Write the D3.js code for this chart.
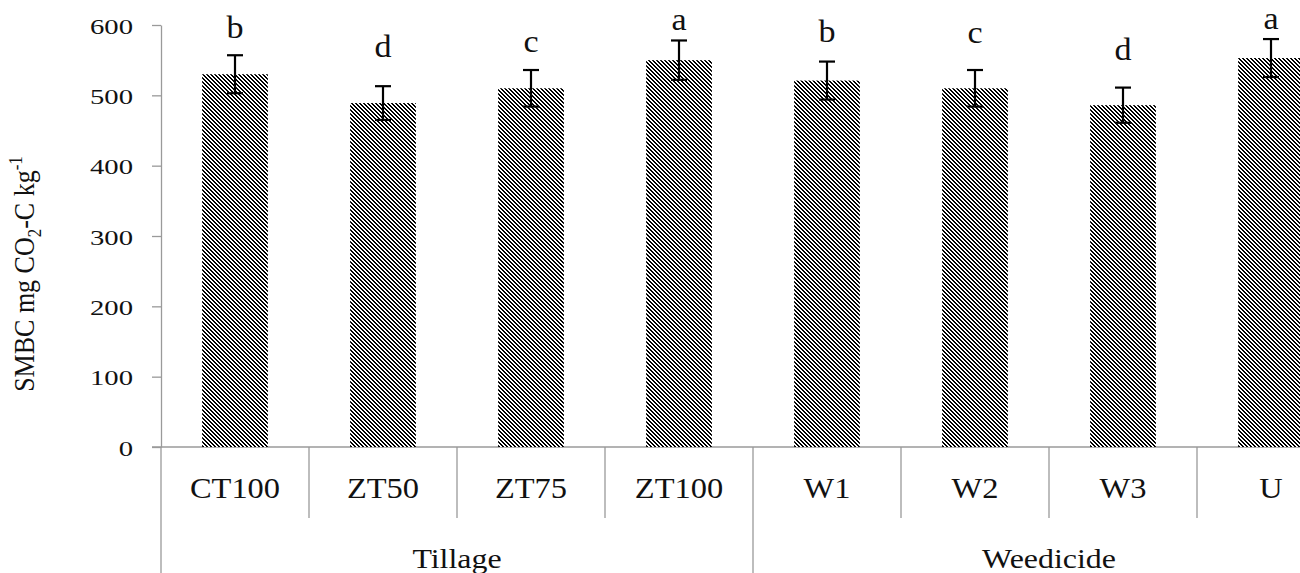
<!DOCTYPE html>
<html>
<head>
<meta charset="utf-8">
<script src="https://cdn.jsdelivr.net/npm/d3@7"></script>
<style>
  body { margin: 0; background: #fff; }
  svg { display: block; }
  text { font-family: "Liberation Serif", "Times New Roman", serif; fill: #111; }
</style>
</head>
<body>
<div id="container"></div>
<script>
// data
const categories = ['CT100', 'ZT50', 'ZT75', 'ZT100', 'W1', 'W2', 'W3', 'U'];
const groups = ['Tillage', 'Tillage', 'Tillage', 'Tillage', 'Weedicide', 'Weedicide', 'Weedicide', 'Weedicide'];
const smbc = [530, 489, 510, 550, 521, 510, 486, 553];
const errors = [27, 24, 26, 28, 27, 26, 25, 27];
const letters = ['b', 'd', 'c', 'a', 'b', 'c', 'd', 'a'];
// height (in chart units) where each letter sits
const letterLevel = [581, 554, 562, 593, 576, 574, 550, 594];
const yTicks = [0, 100, 200, 300, 400, 500, 600];

const width = 1300, height = 573;
const plotLeft = 161, plotTop = 25, plotBottom = 447;
const slotEnd = 1345;
const axisGrey = '#9a9a9a';

const svg = d3.select('#container').append('svg')
  .attr('width', width)
  .attr('height', height);

// downward diagonal hatch
const pat = svg.append('defs').append('pattern')
  .attr('id', 'hatch')
  .attr('patternUnits', 'userSpaceOnUse')
  .attr('width', 4)
  .attr('height', 4);
pat.append('rect').attr('width', 4).attr('height', 4).attr('fill', '#fff');
for (let r = 0; r < 4; r++) {
  [r, (r + 1) % 4].forEach(c => {
    pat.append('rect')
      .attr('x', c).attr('y', r)
      .attr('width', 1).attr('height', 1)
      .attr('fill', '#000')
      .attr('shape-rendering', 'crispEdges');
  });
}

const y = d3.scaleLinear().domain([0, 600]).range([plotBottom, plotTop]);

// one slot per category, bars sit in the middle of it
const slot = d3.scaleBand().domain(categories).range([plotLeft, slotEnd]).padding(0);
const x = d3.scaleBand().domain(categories).range([plotLeft, slotEnd])
  .paddingInner(0.556).paddingOuter(0.278);

// y axis
const yAxis = svg.append('g')
  .attr('transform', `translate(${plotLeft},0)`)
  .call(d3.axisLeft(y).tickValues(yTicks).tickSize(9).tickSizeOuter(0));
yAxis.select('.domain').attr('stroke', axisGrey).attr('stroke-width', 1.3);
yAxis.selectAll('.tick line').attr('stroke', axisGrey).attr('stroke-width', 1.3);
yAxis.selectAll('.tick text')
  .attr('x', null).attr('dy', null)
  .attr('transform', 'translate(-28,8) scale(1.4,1)')
  .style('font-size', '20.5px')
  .style('font-family', '"Liberation Serif", serif')
  .attr('fill', '#111');

// x axis line
svg.append('line')
  .attr('x1', plotLeft - 9).attr('x2', width)
  .attr('y1', plotBottom).attr('y2', plotBottom)
  .attr('stroke', axisGrey).attr('stroke-width', 1.3);

// separators between categories
svg.selectAll('.sep')
  .data(categories.slice(1))
  .enter()
  .append('line')
  .attr('class', 'sep')
  .attr('x1', d => slot(d)).attr('x2', d => slot(d))
  .attr('y1', plotBottom)
  .attr('y2', (d, i) => groups[i + 1] !== groups[i] ? height : 518)
  .attr('stroke', axisGrey).attr('stroke-width', 1.3);

// left edge goes down through the label rows
svg.append('line')
  .attr('x1', plotLeft).attr('x2', plotLeft)
  .attr('y1', plotBottom).attr('y2', height)
  .attr('stroke', axisGrey).attr('stroke-width', 1.3);

// bars
svg.selectAll('.bar')
  .data(categories)
  .enter()
  .append('rect')
  .attr('class', 'bar')
  .attr('x', d => x(d))
  .attr('width', x.bandwidth())
  .attr('y', (d, i) => y(smbc[i]))
  .attr('height', (d, i) => y(0) - y(smbc[i]))
  .attr('fill', 'url(#hatch)');

// error bars
const cx = d => x(d) + x.bandwidth() / 2;
const err = svg.selectAll('.err')
  .data(categories)
  .enter()
  .append('g')
  .attr('class', 'err')
  .attr('stroke', '#000')
  .attr('stroke-width', 2.2);
err.append('line')
  .attr('x1', cx).attr('x2', cx)
  .attr('y1', (d, i) => y(smbc[i] + errors[i]))
  .attr('y2', (d, i) => y(smbc[i] - errors[i]));
err.append('line')
  .attr('x1', d => cx(d) - 8).attr('x2', d => cx(d) + 8)
  .attr('y1', (d, i) => y(smbc[i] + errors[i]))
  .attr('y2', (d, i) => y(smbc[i] + errors[i]));
err.append('line')
  .attr('x1', d => cx(d) - 8).attr('x2', d => cx(d) + 8)
  .attr('y1', (d, i) => y(smbc[i] - errors[i]))
  .attr('y2', (d, i) => y(smbc[i] - errors[i]));

// significance letters
svg.selectAll('.letter')
  .data(categories)
  .enter()
  .append('text')
  .attr('class', 'letter')
  .attr('transform', (d, i) => `translate(${cx(d)},${y(letterLevel[i])}) scale(1.1,1)`)
  .attr('text-anchor', 'middle')
  .style('font-size', '31px')
  .text((d, i) => letters[i]);

// category labels
svg.selectAll('.cat')
  .data(categories)
  .enter()
  .append('text')
  .attr('class', 'cat')
  .attr('transform', d => `translate(${slot(d) + slot.bandwidth() / 2},498) scale(1.12,1)`)
  .attr('text-anchor', 'middle')
  .style('font-size', '29px')
  .text(d => d);

// group labels
const groupNames = Array.from(new Set(groups));
svg.selectAll('.grp')
  .data(groupNames)
  .enter()
  .append('text')
  .attr('class', 'grp')
  .attr('transform', g => {
    const members = categories.filter((c, i) => groups[i] === g);
    const x0 = slot(members[0]);
    const x1 = slot(members[members.length - 1]) + slot.bandwidth();
    return `translate(${(x0 + x1) / 2},568) scale(1.14,1)`;
  })
  .attr('text-anchor', 'middle')
  .style('font-size', '28px')
  .text(g => g);

// y axis title
const title = svg.append('text')
  .attr('transform', `translate(34,${(155 + 393) / 2}) scale(1.16,1) rotate(-90)`)
  .attr('text-anchor', 'middle')
  .style('font-size', '26px');
title.append('tspan').text('SMBC mg CO');
title.append('tspan').attr('dy', 6).style('font-size', '17px').text('2');
title.append('tspan').attr('dy', -6).text('-C kg');
title.append('tspan').attr('dy', -10).style('font-size', '17px').text('-1');
</script>
</body>
</html>
